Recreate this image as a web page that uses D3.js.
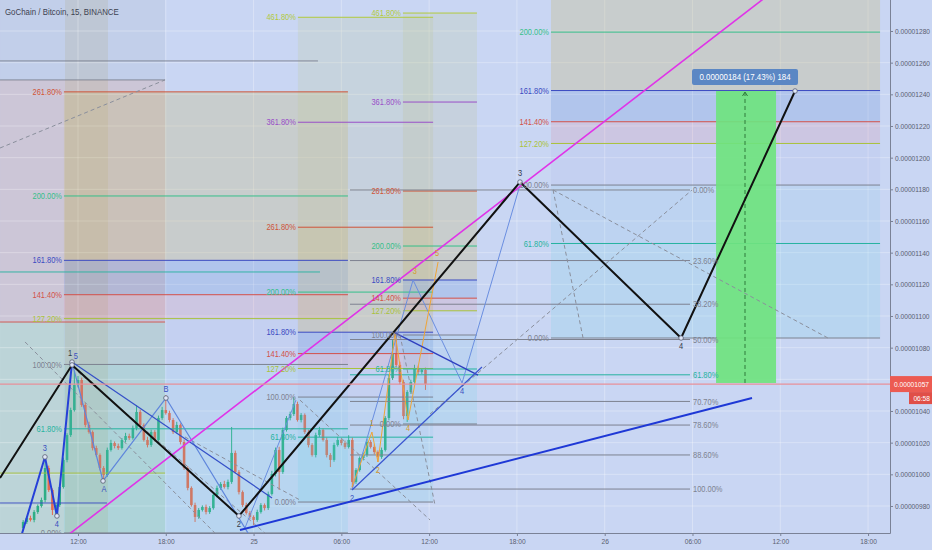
<!DOCTYPE html>
<html><head><meta charset="utf-8">
<script src="https://cdn.jsdelivr.net/npm/d3@7"></script>
<style>
html,body{margin:0;padding:0;background:#c9d6f3;overflow:hidden}
svg{display:block}
text{font-family:"Liberation Sans",Arial,sans-serif}
</style></head>
<body>
<svg id="c" width="932" height="550"></svg>
<script>
// ---------- DATA (prices in 1e-8 BTC, time in hours from day 24 00:00) ----------
const title = "GoChain / Bitcoin, 15, BINANCE";
const xTicks = [12, 18, 24, 30, 36, 42, 48, 54, 60, 66];
const xTickLabels = ["12:00", "18:00", "25", "06:00", "12:00", "18:00", "26", "06:00", "12:00", "18:00"];
const yTicks = [980, 1000, 1020, 1040, 1060, 1080, 1100, 1120, 1140, 1160, 1180, 1200, 1220, 1240, 1260, 1280];

const candleStartHour = 8.25;
const candleStepHour = 0.25;
const firstOpen = 966.1;
const closes = [
  969.9, 972.4, 971.2, 976.2, 980.0, 983.8, 1004.0, 990.1, 977.5, 980.6,
  992.0, 1009.1, 1024.8, 1040.6, 1056.4, 1059.6, 1043.8, 1031.2, 1026.7, 1016.6,
  1012.2, 1004.0, 999.6, 1015.4, 1019.8, 1017.9, 1016.6, 1021.7, 1024.2, 1022.9,
  1029.3, 1039.4, 1031.2, 1021.7, 1018.5, 1026.7, 1021.7, 1035.6, 1040.6, 1038.7,
  1034.3, 1026.7, 1031.2, 1020.4, 1004.0, 991.4, 980.6, 973.1, 977.5, 979.4,
  976.2, 978.7, 987.0, 991.4, 993.9, 992.0, 995.2, 1013.5, 1001.5, 988.8,
  980.6, 975.6, 973.1, 971.2, 976.2, 980.6, 978.7, 987.6, 1000.2, 1015.4,
  1001.5, 1028.0, 1035.6, 1038.1, 1044.4, 1034.3, 1037.5, 1026.7, 1018.5, 1012.2,
  1024.8, 1028.0, 1021.7, 1012.2, 1009.1, 1018.5, 1021.7, 1019.8, 1017.3, 1021.7,
  995.2, 1002.7, 1010.3, 1012.2, 1020.4, 1017.3, 1014.1, 1011.0, 1015.4, 1035.6,
  1060.8, 1076.0, 1069.1, 1058.3, 1036.8, 1052.0, 1058.3, 1067.2, 1064.6, 1065.9, 1057.1
];
const wickUp = [
  1.2,1.0,1.5,1.2,1.0,1.5,6.3,1.5,1.0,1.2,
  1.0,1.5,1.2,1.5,9.0,2.5,1.5,1.2,2.0,1.0,
  1.5,1.0,1.2,1.5,2.0,1.0,1.5,1.2,2.0,1.5,
  1.5,4.4,1.5,1.0,2.0,1.5,1.2,1.5,2.0,9.5,
  1.5,1.2,2.0,1.0,1.5,1.2,1.0,1.5,1.2,1.0,
  1.5,1.2,1.0,1.5,1.2,2.0,1.5,16.4,1.5,1.2,
  1.0,1.5,1.2,1.0,1.5,1.2,1.0,1.5,2.0,1.5,
  2.0,1.5,1.2,1.5,4.4,1.5,1.2,1.0,1.5,1.2,
  1.5,2.0,1.0,1.5,1.2,1.5,2.0,1.0,1.5,3.0,
  1.5,1.2,1.0,1.5,2.0,1.2,1.5,1.0,1.5,1.2,
  2.0,8.8,13.3,2.0,1.5,1.2,1.5,2.0,1.5,1.2,1.5
];
const wickDown = [
  1.5,1.2,1.0,1.5,1.2,1.0,1.5,1.2,3.2,2.5,
  1.2,1.0,1.5,1.2,1.0,1.5,1.2,1.5,1.0,1.5,
  1.2,1.5,4.4,1.2,1.0,1.5,1.2,1.0,1.5,1.2,
  1.0,1.5,1.2,1.0,1.5,1.2,1.0,1.5,1.2,1.0,
  1.5,1.2,1.0,1.5,1.2,1.5,1.0,3.2,1.2,1.0,
  1.5,1.2,1.0,1.5,1.2,1.0,1.5,1.2,1.0,1.5,
  1.2,1.0,1.5,3.2,1.2,1.0,1.5,1.2,1.0,1.5,
  11.4,1.2,1.0,1.5,1.2,1.0,1.5,1.2,1.5,1.0,
  1.5,1.2,1.0,1.5,4.5,1.2,1.0,1.5,1.2,1.0,
  3.8,1.2,1.0,1.5,1.2,1.0,1.5,3.2,1.2,1.0,
  1.5,1.2,1.0,1.5,2.0,3.7,1.2,1.0,1.5,1.2,3.8
];
const lastPrice = 1057;
const countdown = "06:58";

// Fibonacci tools: price at 0%, price at 100%, start hour, end hour, levels
const fibLevelsExt = [0, 0.618, 1, 1.272, 1.414, 1.618, 2, 2.618, 3.618, 4.618];
const fibLevelsRet = [0, 0.236, 0.382, 0.5, 0.618, 0.707, 0.786, 0.886, 1];
const fibA = { p0: 963.0, p1: 1069.4, h0: 11.04, h1: 30.45, levels: [0, 0.618, 1, 1.272, 1.414, 1.618, 2, 2.618] };
const fibB = { p0: 982.5, p1: 1048.8, h0: 27.03, h1: 36.27, levels: fibLevelsExt };
const fibC = { p0: 1031.8, p1: 1088.0, h0: 34.21, h1: 39.27, levels: fibLevelsExt };
const fibD = { p0: 1086.1, p1: 1182.7, h0: 44.33, h1: 66.82, levels: [0, 0.618, 1, 1.272, 1.414, 1.618, 2, 2.618] };
const fibE = { p0: 1179.6, p1: 990.7, h0: 30.59, h1: 53.83, levels: fibLevelsRet };

// partial levels of an older tool on the left: [price, from hour, to hour, level]
const leftLevels = [
  [1261.1, 6.67, 28.4, 1], [1249.1, 6.67, 17.95, 1], [1127.8, 6.67, 28.54, 0.618],
  [1096.2, 6.67, 17.95, 1.414], [1000.8, 6.67, 17.95, 1.272], [981.9, 6.67, 13.98, 1.618]
];
// shaded regions: [h0, h1, pTop, pBottom, kind]
const regions = [
  [6.67, 17.95, 1249.1, 1096.2, "pink"],
  [6.67, 17.95, 1096.2, 955, "green"],
  [11.11, 14.05, 1305, 955, "tan"],
  [6.67, 17.95, 1305, 1249.1, "grey"]
];

// Elliott waves & trend lines: arrays of [hour, price]
const blackWave = [[6.67, 997.7], [11.59, 1069.1], [23.0, 973.7], [42.21, 1184.6], [53.22, 1086.1], [61.01, 1242.1]];
const blueWave = [[8.04, 958.5], [9.74, 1011.0], [10.56, 973.7], [11.59, 1070.9]];
const abcWave = [[11.59, 1070.9], [13.71, 995.8], [18.01, 1048.2], [23.62, 962.9]];
const magentaLine = [[11.0, 959.4], [60.0, 1308.5]];
const blueTrend = [[23.07, 964.8], [58.07, 1048.2]];
const blueDiag = [[11.59, 1070.9], [25.26, 985.1]];
const lightUp = [[23.41, 966.1], [26.9, 1046.9]];
const thinBlueWave = [[30.73, 990.1], [34.90, 1122.7], [38.25, 1057.7], [42.21, 1182.7]];
const navyLine = [[33.67, 1089.3], [39.34, 1062.7]];
const channelLine = [[30.73, 990.1], [39.61, 1067.8]];
const orangeWave = [[30.73, 992.0], [32.09, 1026.7], [32.50, 1007.8], [33.67, 1089.3], [34.56, 1034.3], [36.61, 1134.1]];
const dashedLines = [
  [[6.67, 1206.1], [17.95, 1249.1]],
  [[8.38, 1083.6], [21.36, 962.9]],
  [[12.0, 1064.6], [24.78, 962.9]],
  [[19.31, 1023.6], [27.17, 983.8]],
  [[27.17, 1046.9], [36.06, 971.2]],
  [[34.01, 1088.0], [36.40, 980.6]],
  [[36.06, 1038.1], [53.97, 1179.6]],
  [[44.47, 1179.6], [46.52, 1086.1]],
  [[44.47, 1179.6], [63.26, 1086.1]]
];
// price range measure
const measure = { h0: 55.61, h1: 59.71, hMid: 57.59, pFrom: 1057.7, pTo: 1242.1, text: "0.00000184 (17.43%) 184" };
// wave labels: [hour, price, text, group, placement]
const waveLabels = [
  [11.45, 1070.9, "1", "dark", "above"], [11.86, 1070.9, "5", "blue", "above2"],
  [9.74, 1011.0, "3", "blue", "above"], [10.56, 973.7, "4", "blue", "below"],
  [13.78, 995.8, "A", "blue", "below"], [18.01, 1048.2, "B", "blue", "above"],
  [23.0, 973.7, "2", "dark", "below"], [30.73, 990.1, "2", "blue", "below"],
  [42.21, 1184.6, "3", "dark", "above"], [53.22, 1086.1, "4", "dark", "below"],
  [32.09, 1026.7, "1", "orange", "above"], [32.50, 1007.8, "2", "orange", "below"],
  [35.03, 1122.7, "3", "orange", "above"], [34.56, 1034.3, "4", "orange", "below"],
  [36.54, 1134.1, "5", "orange", "above"], [38.25, 1057.7, "4", "blue", "below"]
];

// ---------- STYLES ----------
const levelColor = {0:"#7d8290",0.236:"#7d8290",0.382:"#7d8290",0.5:"#7d8290",0.618:"#27b3a0",0.707:"#7d8290",0.786:"#7d8290",0.886:"#7d8290",1:"#7d8290",1.272:"#a9c23a",1.414:"#d3514a",1.618:"#3b4bc2",2:"#35bf8a",2.618:"#cf5438",3.618:"#9a4fc8",4.618:"#b2ca3c"};
const levelFill = {0.618:"rgba(90,210,230,0.15)",1:"rgba(110,190,235,0.13)",1.272:"rgba(160,160,230,0.10)",1.414:"rgba(220,130,150,0.18)",1.618:"rgba(40,100,200,0.15)",2:"rgba(200,185,120,0.32)",2.618:"rgba(200,185,120,0.30)",3.618:"rgba(190,190,140,0.20)",4.618:"rgba(190,200,140,0.20)"};
const regionFill = {pink:"rgba(215,140,120,0.22)",green:"rgba(140,205,110,0.20)",tan:"rgba(175,160,95,0.16)",grey:"rgba(150,160,175,0.12)"};
const labelColor = {dark:"#333a48",blue:"#3a4fc0",orange:"#d79a30"};
const NARROW = 0.83;

// ---------- CHART ----------
const svg = d3.select("#c");
const plotW = 890, plotH = 533;
const x = d3.scaleLinear().domain([6.668, 67.5]).range([0, plotW]);
const y = d3.scaleLinear().domain([980, 1280]).range([506, 31]);
const fmt = v => (v * 1e-8).toFixed(8);

svg.append("defs").append("clipPath").attr("id","clip")
  .append("rect").attr("x",0).attr("y",0).attr("width",plotW).attr("height",plotH);

svg.append("rect").attr("width",932).attr("height",550).attr("fill","#c9d6f3");
const g = svg.append("g").attr("clip-path","url(#clip)");
const Lreg = g.append("g"), Lgrid = g.append("g"), Lcand = g.append("g"),
      Lfill = g.append("g"), Lfib = g.append("g"), Lmeas = g.append("g"),
      Llines = g.append("g"), Llab = g.append("g");

// regions
Lreg.selectAll("rect").data(regions).join("rect")
  .attr("x", d => x(d[0])).attr("width", d => x(d[1]) - x(d[0]))
  .attr("y", d => y(d[2])).attr("height", d => y(d[3]) - y(d[2]))
  .attr("fill", d => regionFill[d[4]]);

// grid
Lgrid.selectAll(".gx").data(xTicks).join("line").attr("class","gx")
  .attr("x1", d => x(d)).attr("x2", d => x(d)).attr("y1",0).attr("y2",plotH)
  .attr("stroke","rgba(255,255,255,0.30)").attr("stroke-width",1);
Lgrid.selectAll(".gy").data(yTicks).join("line").attr("class","gy")
  .attr("y1", d => y(d)).attr("y2", d => y(d)).attr("x1",0).attr("x2",plotW)
  .attr("stroke","rgba(255,255,255,0.30)").attr("stroke-width",1);

// candles
const candles = closes.map((c, i) => {
  const o = i === 0 ? firstOpen : closes[i - 1];
  return { t: candleStartHour + i * candleStepHour, o, c,
           h: Math.max(o, c) + wickUp[i], l: Math.min(o, c) - wickDown[i] };
});
const bw = (x(candleStepHour) - x(0)) * 0.7;
Lcand.selectAll("line").data(candles).join("line")
  .attr("x1", d => x(d.t)).attr("x2", d => x(d.t))
  .attr("y1", d => y(d.h)).attr("y2", d => y(d.l))
  .attr("stroke", d => d.c >= d.o ? "#2fae86" : "#e4694f").attr("stroke-width", 1);
Lcand.selectAll("rect").data(candles).join("rect")
  .attr("x", d => x(d.t) - bw / 2).attr("width", bw)
  .attr("y", d => y(Math.max(d.o, d.c)))
  .attr("height", d => Math.max(1, Math.abs(y(d.o) - y(d.c))))
  .attr("fill", d => d.c >= d.o ? "#2fae86" : "#e4694f");

// fib tools
function drawFib(f, labelSide, fill) {
  const lv = f.levels.slice().sort((a, b) => a - b);
  const P = l => f.p0 + (f.p1 - f.p0) * l;
  if (fill) {
    const zones = lv.slice(1).map((l, i) => [lv[i], l]);
    Lfill.append("g").selectAll("rect").data(zones).join("rect")
      .attr("x", x(f.h0)).attr("width", x(f.h1) - x(f.h0))
      .attr("y", d => Math.min(y(P(d[0])), y(P(d[1]))))
      .attr("height", d => Math.abs(y(P(d[0])) - y(P(d[1]))))
      .attr("fill", d => levelFill[d[1]] || "none");
  }
  Lfib.append("g").selectAll("line").data(lv).join("line")
    .attr("x1", x(f.h0)).attr("x2", x(f.h1))
    .attr("y1", d => y(P(d))).attr("y2", d => y(P(d)))
    .attr("stroke", d => levelColor[d]).attr("stroke-width", 1);
  const visible = lv.filter(l => y(P(l)) > 4 && y(P(l)) < plotH + 1);
  Llab.append("g").selectAll("text").data(visible).join("text")
    .attr("x", labelSide === "left" ? x(f.h0) - 2 : x(f.h1) + 3)
    .attr("y", d => y(P(d)))
    .attr("dy", "0.35em")
    .attr("text-anchor", labelSide === "left" ? "end" : "start")
    .attr("font-size", 9)
    .attr("fill", d => levelColor[d])
    .text(d => (d * 100).toFixed(2) + "%");
}
drawFib(fibA, "left", true);
drawFib(fibB, "left", true);
drawFib(fibC, "left", true);
drawFib(fibD, "left", true);
drawFib(fibE, "right", false);

// partial left levels
Lfib.append("g").selectAll("line").data(leftLevels).join("line")
  .attr("x1", d => x(d[1])).attr("x2", d => x(d[2]))
  .attr("y1", d => y(d[0])).attr("y2", d => y(d[0]))
  .attr("stroke", d => levelColor[d[3]]).attr("stroke-width", 1).attr("opacity", 0.9);

// measure box
Lmeas.append("rect")
  .attr("x", x(measure.h0)).attr("width", x(measure.h1) - x(measure.h0))
  .attr("y", y(measure.pTo)).attr("height", y(measure.pFrom) - y(measure.pTo))
  .attr("fill", "#6fe37f").attr("opacity", 0.92);
Lmeas.append("line")
  .attr("x1", x(measure.hMid)).attr("x2", x(measure.hMid))
  .attr("y1", y(measure.pFrom)).attr("y2", y(measure.pTo) + 2)
  .attr("stroke", "#2f7a3a").attr("stroke-dasharray", "4,3").attr("stroke-width", 1);
Lmeas.append("path")
  .attr("d", `M${x(measure.hMid)-2.5},${y(measure.pTo)+5} L${x(measure.hMid)},${y(measure.pTo)+1} L${x(measure.hMid)+2.5},${y(measure.pTo)+5}`)
  .attr("stroke", "#2f7a3a").attr("fill", "none");

const line = d3.line().x(d => x(d[0])).y(d => y(d[1]));

// dashed guides
Llines.selectAll(".dl").data(dashedLines).join("path").attr("class","dl")
  .attr("d", line).attr("fill", "none")
  .attr("stroke", "#8a8f9c").attr("stroke-width", 1).attr("stroke-dasharray", "4,3");

function drawLine(pts, color, w) {
  Llines.append("path").datum(pts).attr("d", line).attr("fill", "none")
    .attr("stroke", color).attr("stroke-width", w)
    .attr("stroke-linejoin", "round");
}
drawLine(lightUp, "#6a8ee0", 1);
drawLine(abcWave, "#5f86dc", 1.2);
drawLine(blueDiag, "#3550c8", 1.2);
drawLine(thinBlueWave, "#6a8ee0", 1);
drawLine(orangeWave, "#f0a536", 1);
drawLine(navyLine, "#2f3fbf", 1.4);
drawLine(channelLine, "#3a55d0", 1.2);
drawLine(magentaLine, "#e033e8", 1.6);
drawLine(blueTrend, "#1e38d6", 2);
drawLine(blueWave, "#2640d8", 2);
drawLine(blackWave, "#111111", 2);

// vertex markers
const markers = [].concat(blueWave.slice(1), abcWave.slice(1, 3), blackWave.slice(1));
Llines.selectAll(".mk").data(markers).join("circle").attr("class","mk")
  .attr("cx", d => x(d[0])).attr("cy", d => y(d[1])).attr("r", 2.3)
  .attr("fill", "#dfe6f7").attr("stroke", "#555c70").attr("stroke-width", 0.8);

// wave labels
const offs = { above: -6, above2: -3, below: 11 };
Llab.append("g").selectAll("text").data(waveLabels).join("text")
  .attr("x", d => x(d[0])).attr("y", d => y(d[1]) + offs[d[4]])
  .attr("text-anchor", "middle").attr("font-size", 9)
  .attr("fill", d => labelColor[d[3]]).text(d => d[2]);

// current price line
Llab.append("line").attr("x1", 0).attr("x2", plotW)
  .attr("y1", y(lastPrice)).attr("y2", y(lastPrice))
  .attr("stroke", "#e7909a").attr("stroke-width", 1.2);

// measure label
const mg = svg.append("g");
const mx = x(measure.hMid), my = y(measure.pTo) - 14;
mg.append("rect").attr("x", mx - 53).attr("y", my - 8).attr("width", 106).attr("height", 16)
  .attr("rx", 2).attr("fill", "#5b87c4");
mg.append("text").attr("x", mx).attr("y", my).attr("dy", "0.35em").attr("text-anchor", "middle")
  .attr("font-size", 9.5).attr("fill", "#ffffff").text(measure.text);

// axes (labels hidden behind the price tag are skipped)
const py = y(lastPrice);
const ax = svg.append("g").attr("transform", `translate(${plotW},0)`);
ax.call(d3.axisRight(y).tickValues(yTicks)
  .tickFormat(v => Math.abs(y(v) - py) < 11 ? "" : fmt(v)).tickSize(3).tickPadding(2));
ax.select(".domain").attr("stroke", "#7a8296").attr("d", `M0.5,0V${plotH + 0.5}`);
ax.selectAll(".tick line").attr("stroke", "#7a8296");
ax.selectAll(".tick text").attr("fill", "#5a6070").attr("font-size", 8)
  .attr("font-family", '"Liberation Sans",Arial,sans-serif');

const bx = svg.append("g").attr("transform", `translate(0,${plotH})`);
bx.call(d3.axisBottom(x).tickValues(xTicks).tickFormat((d, i) => xTickLabels[i]).tickSize(3).tickPadding(2));
bx.select(".domain").attr("stroke", "#7a8296").attr("d", `M0,0.5H${plotW + 0.5}`);
bx.selectAll(".tick line").attr("stroke", "#7a8296");
bx.selectAll(".tick text").attr("fill", "#5a6070").attr("font-size", 8)
  .attr("font-family", '"Liberation Sans",Arial,sans-serif');

// price tag
svg.append("rect").attr("x", plotW).attr("y", py - 8).attr("width", 42).attr("height", 16).attr("fill", "#ec5b52");
svg.append("text").attr("x", plotW + 4).attr("y", py).attr("dy", "0.35em").attr("font-size", 8)
  .attr("fill", "#fff").text(fmt(lastPrice));
svg.append("rect").attr("x", plotW + 19).attr("y", py + 8).attr("width", 23).attr("height", 12).attr("fill", "#e04f48");
svg.append("text").attr("x", plotW + 40).attr("y", py + 14).attr("dy", "0.35em").attr("text-anchor", "end")
  .attr("font-size", 8).attr("fill", "#fff").text(countdown);

// title
svg.append("text").attr("x", 5).attr("y", 15).attr("font-size", 9.5).attr("fill", "#3d4250").text(title);

// condense all text horizontally around its anchor (chart uses a narrow face)
svg.selectAll("text").each(function () {
  const ax0 = +this.getAttribute("x") || 0;
  this.setAttribute("transform", `translate(${(ax0 * (1 - NARROW)).toFixed(2)},0) scale(${NARROW},1)`);
});
</script>
</body></html>
